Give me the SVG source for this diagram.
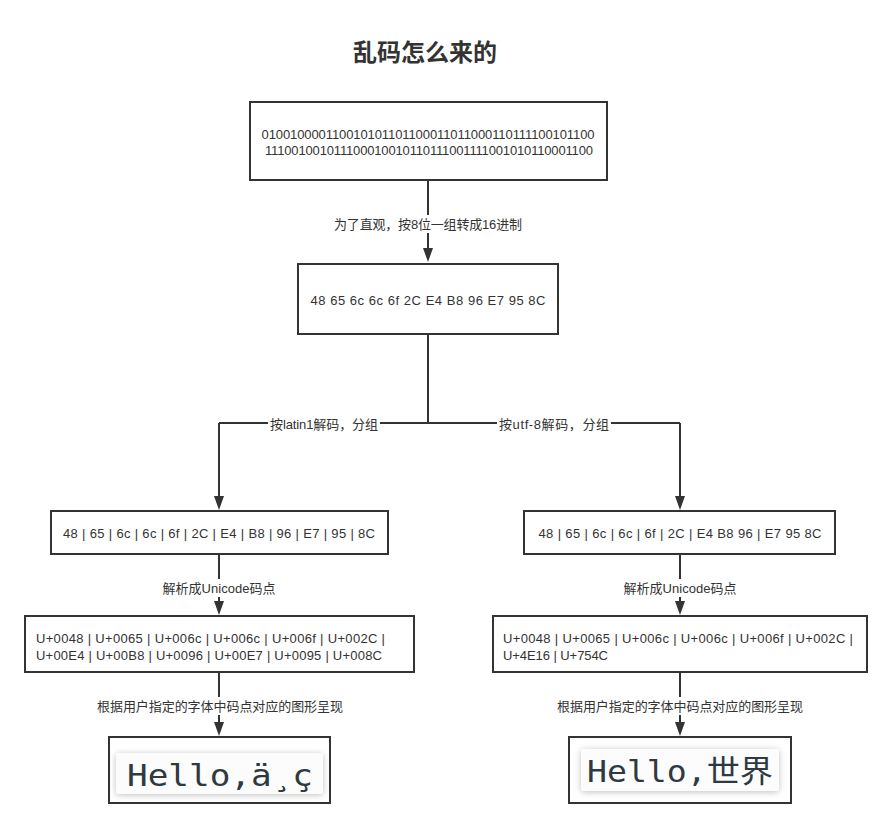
<svg xmlns="http://www.w3.org/2000/svg" width="892" height="836" viewBox="0 0 892 836">
<style>
.box{fill:#fff;stroke:#333;stroke-width:2}
.t{font-family:"Liberation Sans","Noto Sans CJK SC",sans-serif;font-size:13px;fill:#333}
.c{text-anchor:middle}
.lbl{font-family:"Liberation Sans","Noto Sans CJK SC",sans-serif;font-size:13px;fill:#333;text-anchor:middle}
.edge{fill:none;stroke:#333;stroke-width:2}
.card{fill:#fcfcfc}
.mono{font-family:"DejaVu Sans Mono","Noto Sans CJK SC",monospace;font-size:31px;fill:#2e3a40}
</style>
<defs>
<filter id="sh" x="-10%" y="-30%" width="120%" height="160%">
<feDropShadow dx="0" dy="1" stdDeviation="3" flood-color="#000" flood-opacity="0.25"/>
</filter>
</defs>
<rect width="892" height="836" fill="#fff"/>
<text x="425" y="61" class="c" style="font-family:'Noto Sans CJK SC',sans-serif;font-size:24px;font-weight:bold;fill:#333">乱码怎么来的</text>

<g id="connectors">
<path class="edge" d="M428,181 V248"/>
<path d="M423,248 L433,248 L428,262 Z" fill="#333"/>
<rect x="332" y="215" width="192" height="18" fill="#fff"/>
<text class="lbl" x="428" y="229" textLength="188">为了直观，按8位一组转成16进制</text>

<path class="edge" d="M428,334 V423 M219,423 H680 M219,423 V496 M680,423 V496"/>
<path d="M214,496 L224,496 L219,510 Z" fill="#333"/>
<path d="M675,496 L685,496 L680,510 Z" fill="#333"/>
<rect x="268" y="415" width="112" height="18" fill="#fff"/>
<text class="lbl" x="324" y="429" textLength="108">按latin1解码，分组</text>
<rect x="497" y="415" width="114" height="18" fill="#fff"/>
<text class="lbl" x="554" y="429" textLength="110">按utf-8解码，分组</text>

<path class="edge" d="M219,555 V601 M680,555 V601"/>
<path d="M214,601 L224,601 L219,615 Z" fill="#333"/>
<path d="M675,601 L685,601 L680,615 Z" fill="#333"/>
<rect x="160" y="579" width="118" height="18" fill="#fff"/>
<text class="lbl" x="219" y="593" textLength="113">解析成Unicode码点</text>
<rect x="621" y="579" width="118" height="18" fill="#fff"/>
<text class="lbl" x="680" y="593" textLength="113">解析成Unicode码点</text>

<path class="edge" d="M219,673 V722 M680,673 V722"/>
<path d="M214,722 L224,722 L219,736 Z" fill="#333"/>
<path d="M675,722 L685,722 L680,736 Z" fill="#333"/>
<rect x="95" y="697" width="250" height="18" fill="#fff"/>
<text class="lbl" x="220" y="711" textLength="246">根据用户指定的字体中码点对应的图形呈现</text>
<rect x="555" y="697" width="250" height="18" fill="#fff"/>
<text class="lbl" x="680" y="711" textLength="246">根据用户指定的字体中码点对应的图形呈现</text>
</g>

<g id="n1">
<rect class="box" x="250" y="102" width="357" height="78"/>
<text class="t c" x="428" y="139" textLength="333">010010000110010101101100011011000110111100101100</text>
<text class="t c" x="429" y="155" textLength="328">111001001011100010010110111001111001010110001100</text>
</g>

<g id="n2">
<rect class="box" x="298" y="264" width="260" height="70"/>
<text class="t c" x="428" y="305" textLength="235">48 65 6c 6c 6f 2C E4 B8 96 E7 95 8C</text>
</g>

<g id="n3">
<rect class="box" x="51" y="511" width="337" height="43"/>
<text class="t c" x="219" y="538" textLength="312">48 | 65 | 6c | 6c | 6f | 2C | E4 | B8 | 96 | E7 | 95 | 8C</text>
</g>

<g id="n4">
<rect class="box" x="524" y="511" width="311" height="43"/>
<text class="t c" x="680" y="538" textLength="283">48 | 65 | 6c | 6c | 6f | 2C | E4 B8 96 | E7 95 8C</text>
</g>

<g id="n5">
<rect class="box" x="25" y="616" width="389" height="56"/>
<text class="t" x="36" y="643" textLength="349">U+0048 | U+0065 | U+006c | U+006c | U+006f | U+002C |</text>
<text class="t" x="36" y="660" textLength="346">U+00E4 | U+00B8 | U+0096 | U+00E7 | U+0095 | U+008C</text>
</g>

<g id="n6">
<rect class="box" x="493" y="616" width="374" height="56"/>
<text class="t" x="503" y="643" textLength="350">U+0048 | U+0065 | U+006c | U+006c | U+006f | U+002C |</text>
<text class="t" x="503" y="660" textLength="105">U+4E16 | U+754C</text>
</g>

<g id="n7">
<rect class="box" x="109" y="737" width="221" height="66"/>
<rect class="card" x="116" y="753" width="207" height="41" rx="3" filter="url(#sh)"/>
<text class="mono" x="127" y="786" textLength="186" lengthAdjust="spacingAndGlyphs">Hello,ä¸ç</text>
</g>

<g id="n8">
<rect class="box" x="569" y="737" width="222" height="66"/>
<rect class="card" x="581" y="749" width="198" height="42" rx="3" filter="url(#sh)"/>
<text class="mono" x="587" y="782" textLength="186" lengthAdjust="spacingAndGlyphs">Hello,世界</text>
</g>
</svg>
